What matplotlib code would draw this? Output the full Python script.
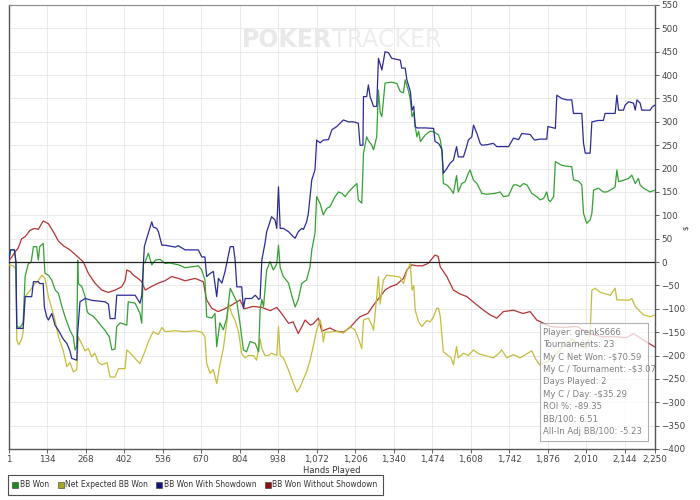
import matplotlib
matplotlib.use('Agg')
import matplotlib.pyplot as plt
from matplotlib.lines import Line2D
from matplotlib.patches import Rectangle

# hand number, BB value pairs
won_hands = [1, 6, 20, 25, 28, 40, 50, 57, 68, 78, 86, 97, 103, 108, 120, 126, 138, 150, 162, 173, 185, 196, 213, 225, 231, 237, 240, 242, 254, 266, 272, 277, 292, 306, 320, 335, 350, 359, 370, 376, 388, 411, 416, 440, 457, 463, 469, 475, 486, 498, 510, 527, 544, 560, 591, 614, 640, 660, 672, 683, 689, 707, 718, 724, 735, 747, 759, 771, 782, 794, 805, 817, 828, 840, 858, 870, 875, 881, 887, 898, 910, 921, 933, 939, 945, 956, 974, 985, 997, 1008, 1020, 1037, 1049, 1055, 1066, 1072, 1084, 1095, 1107, 1118, 1136, 1148, 1160, 1171, 1183, 1200, 1212, 1217, 1229, 1235, 1246, 1252, 1264, 1270, 1281, 1287, 1293, 1299, 1310, 1333, 1351, 1363, 1374, 1380, 1392, 1398, 1404, 1410, 1415, 1421, 1427, 1433, 1450, 1467, 1479, 1496, 1502, 1508, 1513, 1525, 1536, 1548, 1559, 1565, 1577, 1589, 1600, 1606, 1618, 1630, 1647, 1664, 1693, 1711, 1722, 1740, 1757, 1769, 1780, 1792, 1804, 1821, 1838, 1850, 1862, 1873, 1879, 1885, 1897, 1903, 1925, 1943, 1960, 1966, 1984, 1995, 2001, 2012, 2024, 2030, 2036, 2053, 2070, 2082, 2094, 2105, 2111, 2117, 2123, 2140, 2158, 2169, 2181, 2192, 2198, 2210, 2233, 2250]
won_vals = [5, 26, 26, 0, -138, -140, -130, -31, -4, 0, 33, 33, 4, 33, 40, -24, -28, -39, -60, -67, -95, -117, -146, -160, -188, -180, 4, -46, -52, -74, -103, -110, -115, -124, -135, -146, -160, -188, -186, -138, -130, -135, -85, -88, -110, -131, -3, 0, 19, -6, 4, 6, -3, -2, -6, -12, -10, -8, -17, -38, -117, -120, -110, -181, -130, -145, -120, -56, -70, -85, -131, -188, -192, -170, -174, -192, -103, -80, -95, -17, 1, -17, -4, 36, -12, -31, -45, -71, -96, -80, -46, -38, -10, 26, 61, 140, 125, 101, 115, 118, 140, 150, 147, 140, 150, 161, 168, 133, 126, 233, 268, 260, 250, 240, 268, 368, 320, 311, 383, 385, 382, 365, 362, 390, 365, 347, 311, 320, 290, 268, 280, 258, 272, 280, 279, 272, 262, 240, 168, 165, 158, 147, 185, 150, 168, 172, 190, 197, 175, 168, 147, 145, 147, 150, 140, 142, 165, 165, 161, 168, 165, 147, 140, 133, 136, 150, 133, 129, 140, 215, 207, 205, 204, 176, 173, 165, 104, 83, 90, 104, 154, 158, 150, 150, 154, 158, 161, 197, 172, 175, 179, 186, 168, 179, 165, 158, 150, 154]

xp_hands = [1, 15, 25, 28, 35, 45, 50, 57, 75, 91, 103, 115, 126, 138, 150, 161, 173, 190, 202, 213, 225, 237, 242, 254, 266, 277, 289, 300, 312, 324, 342, 353, 370, 382, 405, 411, 428, 445, 457, 475, 486, 503, 521, 533, 544, 580, 614, 649, 672, 683, 689, 701, 712, 724, 735, 747, 759, 765, 776, 788, 800, 811, 823, 834, 852, 863, 875, 881, 892, 904, 915, 933, 939, 945, 956, 974, 985, 1003, 1014, 1026, 1037, 1049, 1060, 1072, 1084, 1090, 1095, 1101, 1118, 1140, 1165, 1188, 1205, 1215, 1229, 1235, 1252, 1264, 1270, 1281, 1287, 1293, 1304, 1316, 1340, 1362, 1374, 1386, 1398, 1404, 1410, 1415, 1427, 1438, 1455, 1467, 1478, 1490, 1496, 1502, 1513, 1530, 1540, 1548, 1559, 1565, 1583, 1600, 1618, 1635, 1658, 1687, 1705, 1716, 1734, 1757, 1780, 1804, 1821, 1833, 1848, 1870, 1900, 1930, 1960, 1985, 2010, 2024, 2030, 2041, 2060, 2094, 2111, 2117, 2140, 2158, 2169, 2181, 2198, 2210, 2233, 2250]
xp_vals = [-6, -8, -15, -167, -177, -165, -150, -74, -60, -46, -40, -28, -35, -74, -100, -124, -160, -190, -224, -215, -235, -230, -160, -175, -190, -185, -203, -195, -215, -220, -215, -246, -246, -228, -228, -188, -198, -210, -217, -190, -170, -149, -155, -140, -149, -147, -149, -147, -150, -160, -217, -238, -230, -260, -220, -185, -131, -88, -110, -125, -150, -196, -205, -200, -200, -210, -165, -185, -200, -200, -195, -200, -138, -200, -205, -231, -250, -278, -268, -250, -235, -210, -180, -146, -124, -140, -171, -150, -150, -148, -152, -138, -145, -160, -185, -124, -120, -135, -146, -74, -31, -90, -39, -28, -30, -32, -46, -20, -3, -60, -50, -103, -128, -138, -125, -128, -118, -99, -99, -115, -192, -200, -205, -220, -181, -205, -195, -200, -188, -196, -200, -205, -196, -188, -205, -198, -205, -196, -190, -206, -220, -215, -200, -180, -165, -175, -185, -152, -60, -56, -65, -71, -56, -81, -81, -82, -78, -95, -106, -113, -117, -113]

sd_hands = [1, 6, 20, 25, 28, 50, 57, 80, 86, 103, 108, 120, 124, 132, 138, 150, 161, 173, 190, 202, 213, 219, 237, 240, 248, 266, 290, 335, 347, 353, 370, 376, 440, 457, 463, 469, 472, 480, 498, 503, 515, 521, 533, 544, 580, 590, 614, 660, 672, 683, 689, 700, 712, 724, 730, 742, 753, 771, 782, 788, 794, 811, 817, 823, 846, 858, 863, 870, 875, 881, 886, 892, 898, 904, 915, 927, 933, 939, 945, 956, 974, 991, 997, 1008, 1020, 1026, 1037, 1043, 1055, 1066, 1072, 1084, 1095, 1113, 1125, 1142, 1165, 1183, 1200, 1217, 1223, 1233, 1235, 1246, 1252, 1258, 1270, 1281, 1287, 1299, 1310, 1322, 1333, 1363, 1368, 1380, 1386, 1398, 1404, 1410, 1415, 1421, 1450, 1479, 1484, 1496, 1502, 1508, 1513, 1525, 1536, 1548, 1559, 1565, 1583, 1594, 1600, 1612, 1618, 1630, 1641, 1647, 1664, 1687, 1699, 1740, 1757, 1775, 1786, 1815, 1830, 1850, 1873, 1877, 1903, 1908, 1925, 1943, 1960, 1966, 1995, 2001, 2007, 2024, 2030, 2053, 2070, 2076, 2111, 2117, 2123, 2140, 2146, 2158, 2175, 2181, 2187, 2198, 2204, 2233, 2240, 2250]
sd_vals = [5, 26, 26, 0, -142, -142, -74, -74, -42, -42, -46, -46, -96, -117, -124, -110, -135, -146, -165, -174, -190, -206, -210, -150, -85, -78, -82, -85, -90, -121, -121, -71, -71, -88, -72, 1, 33, 50, 86, 75, 72, 65, 36, 36, 32, 35, 26, 26, 11, 11, -31, -25, -20, -74, -35, -45, -20, 33, 33, 5, -53, -53, -99, -78, -78, -71, -74, -80, -78, 4, 20, 40, 65, 76, 97, 90, 72, 161, 72, 72, 65, 54, 51, 65, 72, 70, 86, 104, 176, 197, 261, 255, 261, 262, 283, 290, 304, 300, 300, 297, 250, 250, 354, 354, 379, 354, 333, 333, 436, 411, 450, 448, 436, 432, 415, 415, 390, 365, 325, 333, 290, 287, 287, 286, 258, 254, 248, 240, 190, 200, 211, 218, 247, 225, 225, 247, 261, 268, 293, 275, 254, 250, 251, 254, 247, 247, 265, 262, 275, 273, 261, 263, 263, 290, 286, 357, 350, 347, 347, 318, 318, 254, 233, 233, 300, 303, 303, 318, 318, 357, 325, 325, 336, 343, 340, 325, 347, 340, 325, 325, 332, 336]

nsd_hands = [1, 10, 20, 33, 45, 57, 74, 90, 103, 120, 138, 155, 173, 190, 213, 237, 260, 277, 300, 324, 347, 370, 393, 405, 411, 422, 434, 450, 463, 475, 498, 521, 544, 567, 590, 614, 649, 677, 689, 707, 729, 752, 776, 805, 820, 850, 881, 910, 933, 950, 974, 990, 1008, 1032, 1050, 1060, 1078, 1090, 1118, 1140, 1165, 1188, 1210, 1223, 1250, 1270, 1293, 1310, 1328, 1350, 1374, 1386, 1403, 1420, 1440, 1460, 1484, 1495, 1502, 1525, 1548, 1570, 1595, 1630, 1655, 1676, 1699, 1722, 1757, 1790, 1815, 1838, 1862, 1885, 1930, 1978, 2001, 2036, 2070, 2117, 2150, 2175, 2210, 2250]
nsd_vals = [4, 10, 20, 30, 50, 54, 68, 72, 70, 88, 82, 65, 45, 35, 26, 13, 0, -24, -45, -60, -65, -60, -53, -40, -17, -20, -28, -35, -42, -60, -52, -45, -40, -31, -35, -40, -35, -42, -81, -99, -106, -100, -92, -81, -100, -95, -97, -104, -97, -110, -131, -128, -153, -124, -135, -132, -120, -148, -141, -148, -150, -140, -125, -117, -110, -92, -74, -60, -53, -48, -35, -17, -6, -8, -8, -3, 15, 12, -10, -31, -60, -68, -74, -92, -104, -113, -120, -106, -103, -110, -106, -124, -131, -138, -140, -138, -146, -156, -160, -160, -162, -153, -167, -182]

series_names = ['BB Won', 'Net Expected BB Won', 'BB Won With Showdown', 'BB Won Without Showdown']
series_colors = ['#35a035', '#c4bd3c', '#2b2b96', '#b23333']
legend_colors = ['#1f8a1f', '#a8a820', '#12127a', '#8c1010']

x_ticks = [1, 134, 268, 402, 536, 670, 804, 938, 1072, 1206, 1340, 1474, 1608, 1742, 1876, 2010, 2144, 2250]
y_ticks = list(range(-400, 551, 50))

tip_lines = ['Player: grenkS666', 'Tournaments: 23', 'My C Net Won: -$70.59',
             'My C / Tournament: -$3.07', 'Days Played: 2', 'My C / Day: -$35.29',
             'ROI %: -89.35', 'BB/100: 6.51', 'All-In Adj BB/100: -5.23']

fig = plt.figure(figsize=(7, 5), dpi=100)
ax = fig.add_axes([0.0129, 0.102, 0.9229, 0.888])

ax.plot(nsd_hands, nsd_vals, color=series_colors[3], lw=0.9, zorder=3)
ax.plot(xp_hands, xp_vals, color=series_colors[1], lw=0.9, zorder=4)
ax.plot(won_hands, won_vals, color=series_colors[0], lw=0.9, zorder=5)
ax.plot(sd_hands, sd_vals, color=series_colors[2], lw=0.9, zorder=6)
ax.axhline(0, color='#222222', lw=0.9, zorder=7)

ax.set_xlim(1, 2250)
ax.set_ylim(-400, 550)
ax.yaxis.tick_right()
ax.set_xticks(x_ticks)
ax.set_xticklabels(['{:,}'.format(t) for t in x_ticks])
ax.set_yticks(y_ticks)
ax.tick_params(axis='both', labelsize=6.3, colors='#444444', length=3, width=0.6, pad=1.5)
ax.grid(True, color='#e6e6e6', lw=0.6, zorder=0)
ax.set_axisbelow(True)
for side in ['left', 'bottom', 'right']:
    ax.spines[side].set_color('#555555')
    ax.spines[side].set_linewidth(1.0)
ax.spines['top'].set_color('#888888')
ax.set_xlabel('Hands Played', fontsize=6.0, color='#333333', labelpad=1)

# watermark
ax.text(0.5, 0.922, 'POKER', transform=ax.transAxes, ha='right', va='center',
        fontsize=17, fontweight='bold', color='#e9e9e9', zorder=1)
ax.text(0.5, 0.922, 'TRACKER', transform=ax.transAxes, ha='left', va='center',
        fontsize=17, color='#ededed', zorder=1)

# stats box
ax.add_patch(Rectangle((0.822, 0.018), 0.167, 0.266, transform=ax.transAxes,
                       facecolor='white', alpha=0.75, edgecolor='#999999', lw=0.8, zorder=9))
for i, line in enumerate(tip_lines):
    ax.text(0.827, 0.262 - i * 0.0277, line, transform=ax.transAxes, fontsize=6.1,
            color='#808080', va='center', ha='left', zorder=10)

fig.text(0.98, 0.544, '$', fontsize=5, rotation=90, ha='center', va='center', color='#333333')

handles = [Line2D([], [], ls='', marker='s', markersize=4.5, markerfacecolor=c,
                  markeredgecolor='#333333', markeredgewidth=0.4) for c in legend_colors]
leg = fig.legend(handles, series_names, loc='lower left', bbox_to_anchor=(0.011, 0.01),
                 borderaxespad=0, ncol=4, fontsize=5.5, frameon=True, fancybox=False,
                 handlelength=0.5, handletextpad=0.3, columnspacing=1.3, borderpad=0.75)
leg.get_frame().set_edgecolor('#222222')
leg.get_frame().set_linewidth(0.8)
for t in leg.get_texts():
    t.set_color('#333333')

fig.savefig('out.png', dpi=100)
